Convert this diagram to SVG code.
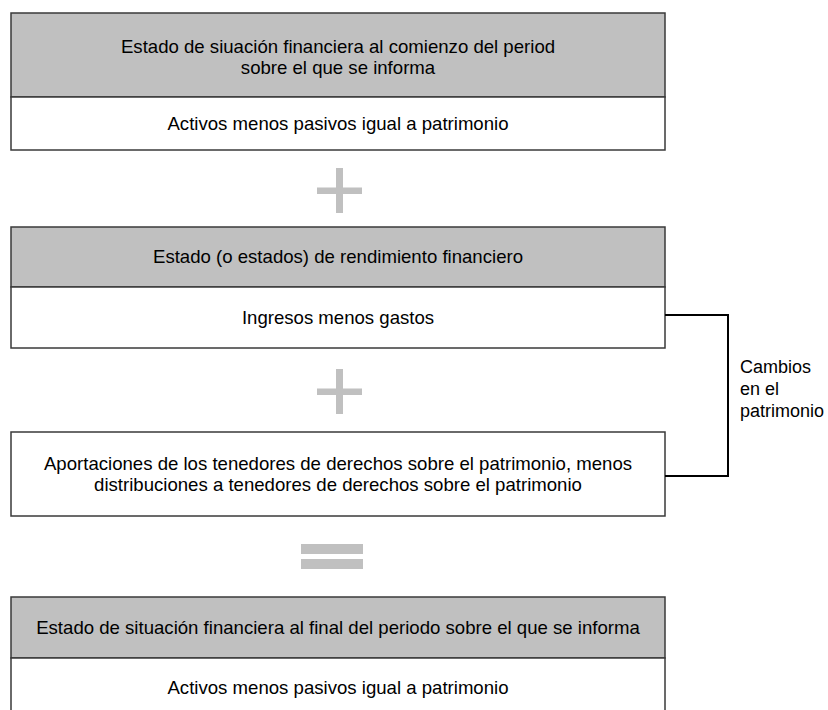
<svg xmlns="http://www.w3.org/2000/svg" width="828" height="710" viewBox="0 0 828 710">
<style>
.hdr{fill:#c0c0c0;stroke:#3a3a3a;stroke-width:1.5}
.bdy{fill:#ffffff;stroke:#3a3a3a;stroke-width:1.5}
.t{font-family:"Liberation Sans",Arial,sans-serif;font-size:18.6px;fill:#000000;text-anchor:middle}
.tl{font-family:"Liberation Sans",Arial,sans-serif;font-size:18px;fill:#000000}
.op{fill:#c0c0c0}
.con{fill:none;stroke:#000000;stroke-width:2}
</style>
<rect width="828" height="710" fill="#ffffff"/>
<g id="box1">
<rect class="hdr" x="11" y="13" width="654" height="84"/>
<rect class="bdy" x="11" y="97" width="654" height="53"/>
<text class="t" x="338" y="53">Estado de siuación financiera al comienzo del period</text>
<text class="t" x="338" y="74">sobre el que se informa</text>
<text class="t" x="338" y="130">Activos menos pasivos igual a patrimonio</text>
</g>
<g id="plus1">
<rect class="op" x="336" y="168" width="7" height="45"/>
<rect class="op" x="317" y="187.5" width="45" height="6.5"/>
</g>
<g id="box2">
<rect class="hdr" x="11" y="227" width="654" height="60"/>
<rect class="bdy" x="11" y="287" width="654" height="61"/>
<text class="t" x="338" y="263">Estado (o estados) de rendimiento financiero</text>
<text class="t" x="338" y="324">Ingresos menos gastos</text>
</g>
<g id="plus2">
<rect class="op" x="336" y="369" width="7" height="45"/>
<rect class="op" x="317" y="388.5" width="45" height="6.5"/>
</g>
<g id="box3">
<rect class="bdy" x="11" y="432" width="654" height="84"/>
<text class="t" x="338" y="470">Aportaciones de los tenedores de derechos sobre el patrimonio, menos</text>
<text class="t" x="338" y="491">distribuciones a tenedores de derechos sobre el patrimonio</text>
</g>
<g id="equals">
<rect class="op" x="301" y="544" width="62" height="10"/>
<rect class="op" x="301" y="559" width="62" height="10"/>
</g>
<g id="box4">
<rect class="hdr" x="11" y="597" width="654" height="61"/>
<rect class="bdy" x="11" y="658" width="654" height="60"/>
<text class="t" x="338" y="634">Estado de situación financiera al final del periodo sobre el que se informa</text>
<text class="t" x="338" y="694">Activos menos pasivos igual a patrimonio</text>
</g>
<g id="connectors">
<polyline class="con" points="665,315 728,315 728,476 665,476"/>
</g>
<g id="label-cambios">
<text class="tl" x="740" y="373">Cambios</text>
<text class="tl" x="740" y="395">en el</text>
<text class="tl" x="740" y="417">patrimonio</text>
</g>
</svg>
